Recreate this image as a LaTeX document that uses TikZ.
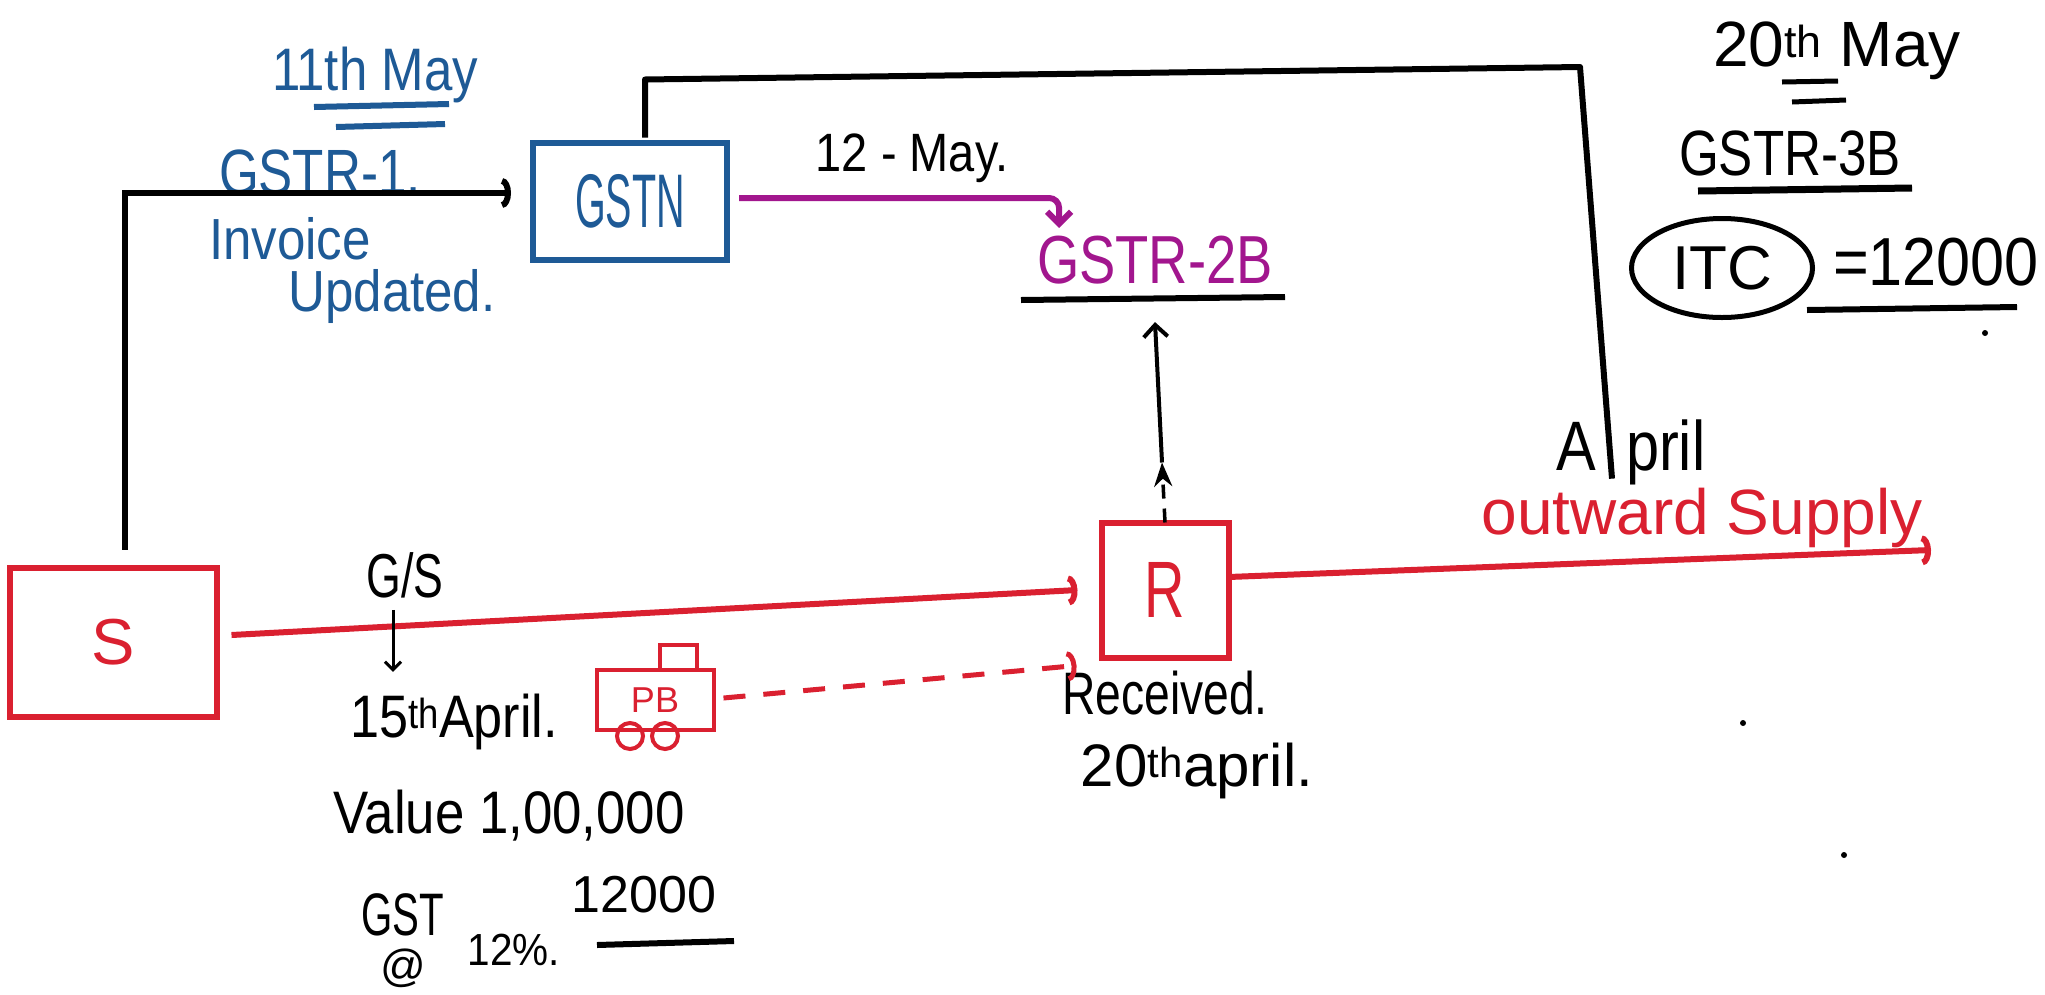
\documentclass[tikz,border=0pt]{standalone}
\usepackage{fontspec}
\setmainfont{Liberation Sans}
\usepackage{graphicx}
\usetikzlibrary{arrows.meta,calc,shapes.geometric}
\definecolor{hred}{RGB}{218,32,48}
\definecolor{hblue}{RGB}{30,90,150}
\definecolor{hmag}{RGB}{162,22,142}
\newcommand{\hw}[2]{\scalebox{#1}[1]{#2}}
\newcommand{\setfs}[1]{\fontsize{#1pt}{#1pt}\selectfont}
\begin{document}
\begin{tikzpicture}[x=1pt,y=-1pt,
  lbl/.style={inner sep=0pt,outer sep=0pt},
  redbox/.style={draw=hred,text=hred,line width=6pt,rectangle,inner sep=0pt,outer sep=0pt},
  bluebox/.style={draw=hblue,text=hblue,line width=6pt,rectangle,inner sep=0pt,outer sep=0pt},
  blk/.style={draw=black,line width=6pt},
  redln/.style={draw=hred,line width=6pt},
  magln/.style={draw=hmag,line width=6pt},
  arcbarb/.style={-{Arc Barb[length=9pt,width=30pt]}},
  vbarb/.style={-{Straight Barb[length=12pt,width=24pt]}}
]
\fill[white] (0,0) rectangle (2045,994);
\useasboundingbox (0,0) rectangle (2045,994);

% boxes
\node[redbox,minimum width=207pt,minimum height=149pt] (S) at (113,642) {\setfs{65}S};
\node[bluebox,minimum width=194pt,minimum height=117pt] (GSTN) at (630,201) {\setfs{76}\hw{0.52}{GSTN}};
\node[redbox,minimum width=127pt,minimum height=135pt] (R) at (1165,590) {\setfs{80}\hw{0.7}{R}};
\node[redbox,line width=4pt,minimum width=117pt,minimum height=60pt] (PB) at (655,700) {\setfs{36}PB};
\draw[hred,line width=4pt] ($(PB.north)+(5,0)$) -- ++(0,-25) -- ++(37,0) -- ++(0,25);
\draw[hred,line width=4pt] ($(PB.south)+(-25,6)$) circle[radius=13pt];
\draw[hred,line width=4pt] ($(PB.south)+(10,6)$) circle[radius=13pt];

% labels
\node[lbl,text=hblue] (may11) at (375,75) {\setfs{60}\hw{0.85}{11th May}};
\node[lbl,text=hblue] (gstr1) at (320,172) {\setfs{64}\hw{0.8}{GSTR-1.}};
\node[lbl,text=hblue] (inv) at (290,239) {\setfs{58}\hw{0.88}{Invoice}};
\node[lbl,text=hblue] (upd) at (392,296) {\setfs{58}\hw{0.88}{Updated.}};
\node[lbl] (may12) at (912,158) {\setfs{54}\hw{0.87}{12 - May.}};
\node[lbl,text=hmag] (gstr2b) at (1155,260) {\setfs{68}\hw{0.8}{GSTR-2B}};
\node[lbl] (may20) at (1837,51) {\setfs{64}20\textsuperscript{th} May};
\node[lbl] (gstr3b) at (1790,153) {\setfs{64}\hw{0.8}{GSTR-3B}};
\node[draw,ellipse,line width=5pt,minimum width=181pt,minimum height=99pt,inner sep=0pt] (itc) at (1722,268) {\setfs{62}ITC};
\node[lbl] (itcval) at (1936,262) {\setfs{68}\hw{0.9}{=12000}};
\node[lbl] (april) at (1631,452) {\setfs{70}\hw{0.85}{A\kern35pt pril}};
\node[lbl,text=hred] (outw) at (1702,518) {\setfs{64}outward Supply};
\node[lbl] (gs) at (405,575) {\setfs{62}\hw{0.72}{G/S}};
\node[lbl] (apr15) at (454,722) {\setfs{60}\hw{0.87}{15\textsuperscript{th}April.}};
\node[lbl] (value) at (509,816) {\setfs{60}\hw{0.88}{Value 1,00,000}};
\node[lbl] (gst) at (403,915) {\setfs{60}\hw{0.67}{GST}};
\node[lbl] (atsign) at (403,968) {\setfs{45}@};
\node[lbl] (pct) at (514,950) {\setfs{45}\hw{0.9}{12\%.}};
\node[lbl] (gstamt) at (644,895) {\setfs{52}12000};
\node[lbl] (recv) at (1165,693) {\setfs{60}\hw{0.77}{Received.}};
\node[lbl] (apr20) at (1197,771) {\setfs{60}20\textsuperscript{th}april.};

% underlines
\draw[hblue,line width=6pt] (314,107) -- (449,104);
\draw[hblue,line width=6pt] (336,127) -- (445,124);
\draw[blk] (1021,300) -- (1285,297);
\draw[blk,line width=5pt] (1782,82) -- (1838,81);
\draw[blk,line width=5pt] (1792,102) -- (1846,100);
\draw[blk,line width=7pt] (1698,191) -- (1912,188);
\draw[blk] (1807,310) -- (2017,307);
\draw[blk] (597,945) -- (734,941);

% connectors
\draw[blk,arcbarb] ($(S.north)+(12,-18)$) |- ($(GSTN.west)+(-22,-8)$);
\coordinate (tr) at (1580,67);
\draw[blk,line join=round] ($(GSTN.north)+(15,-5)$) -- ++(0,-58) -- (tr) -- ($(april.south)+(-19,-6)$);
\draw[magln,rounded corners=10pt,vbarb] ($(GSTN.east)+(12,-3)$) -| ($(gstr2b.north west)+(22,-8)$);
\coordinate (mid) at ($(R.north)+(-3,-60)$);
\draw[blk,line width=3.5pt,dash pattern=on 14pt off 10pt,-{Stealth[length=24pt,width=18pt]}] (R.north) -- (mid);
\draw[blk,line width=4pt,vbarb] (mid) -- ($(gstr2b.south)+(0,38)$);
\draw[redln,arcbarb] ($(S.east)+(15,-7)$) -- ($(R.west)+(-24,0)$);
\draw[redln,line width=5pt,dash pattern=on 22pt off 18pt,arcbarb] ($(PB.east)+(10,-2)$) -- ($(R.south west)+(-25,8)$);
\coordinate (outend) at (1931,550);
\draw[redln,arcbarb] ($(R.east)+(0,-13)$) -- (outend);
\draw[blk,line width=3pt,-{Straight Barb[length=8pt,width=16pt]}] ($(gs.south)+(-12,12)$) -- ++(0,62);

% dots
\fill (1743,723) circle[radius=3pt];
\fill (1844,855) circle[radius=3pt];
\fill (1985,333) circle[radius=3pt];
\end{tikzpicture}
\end{document}
